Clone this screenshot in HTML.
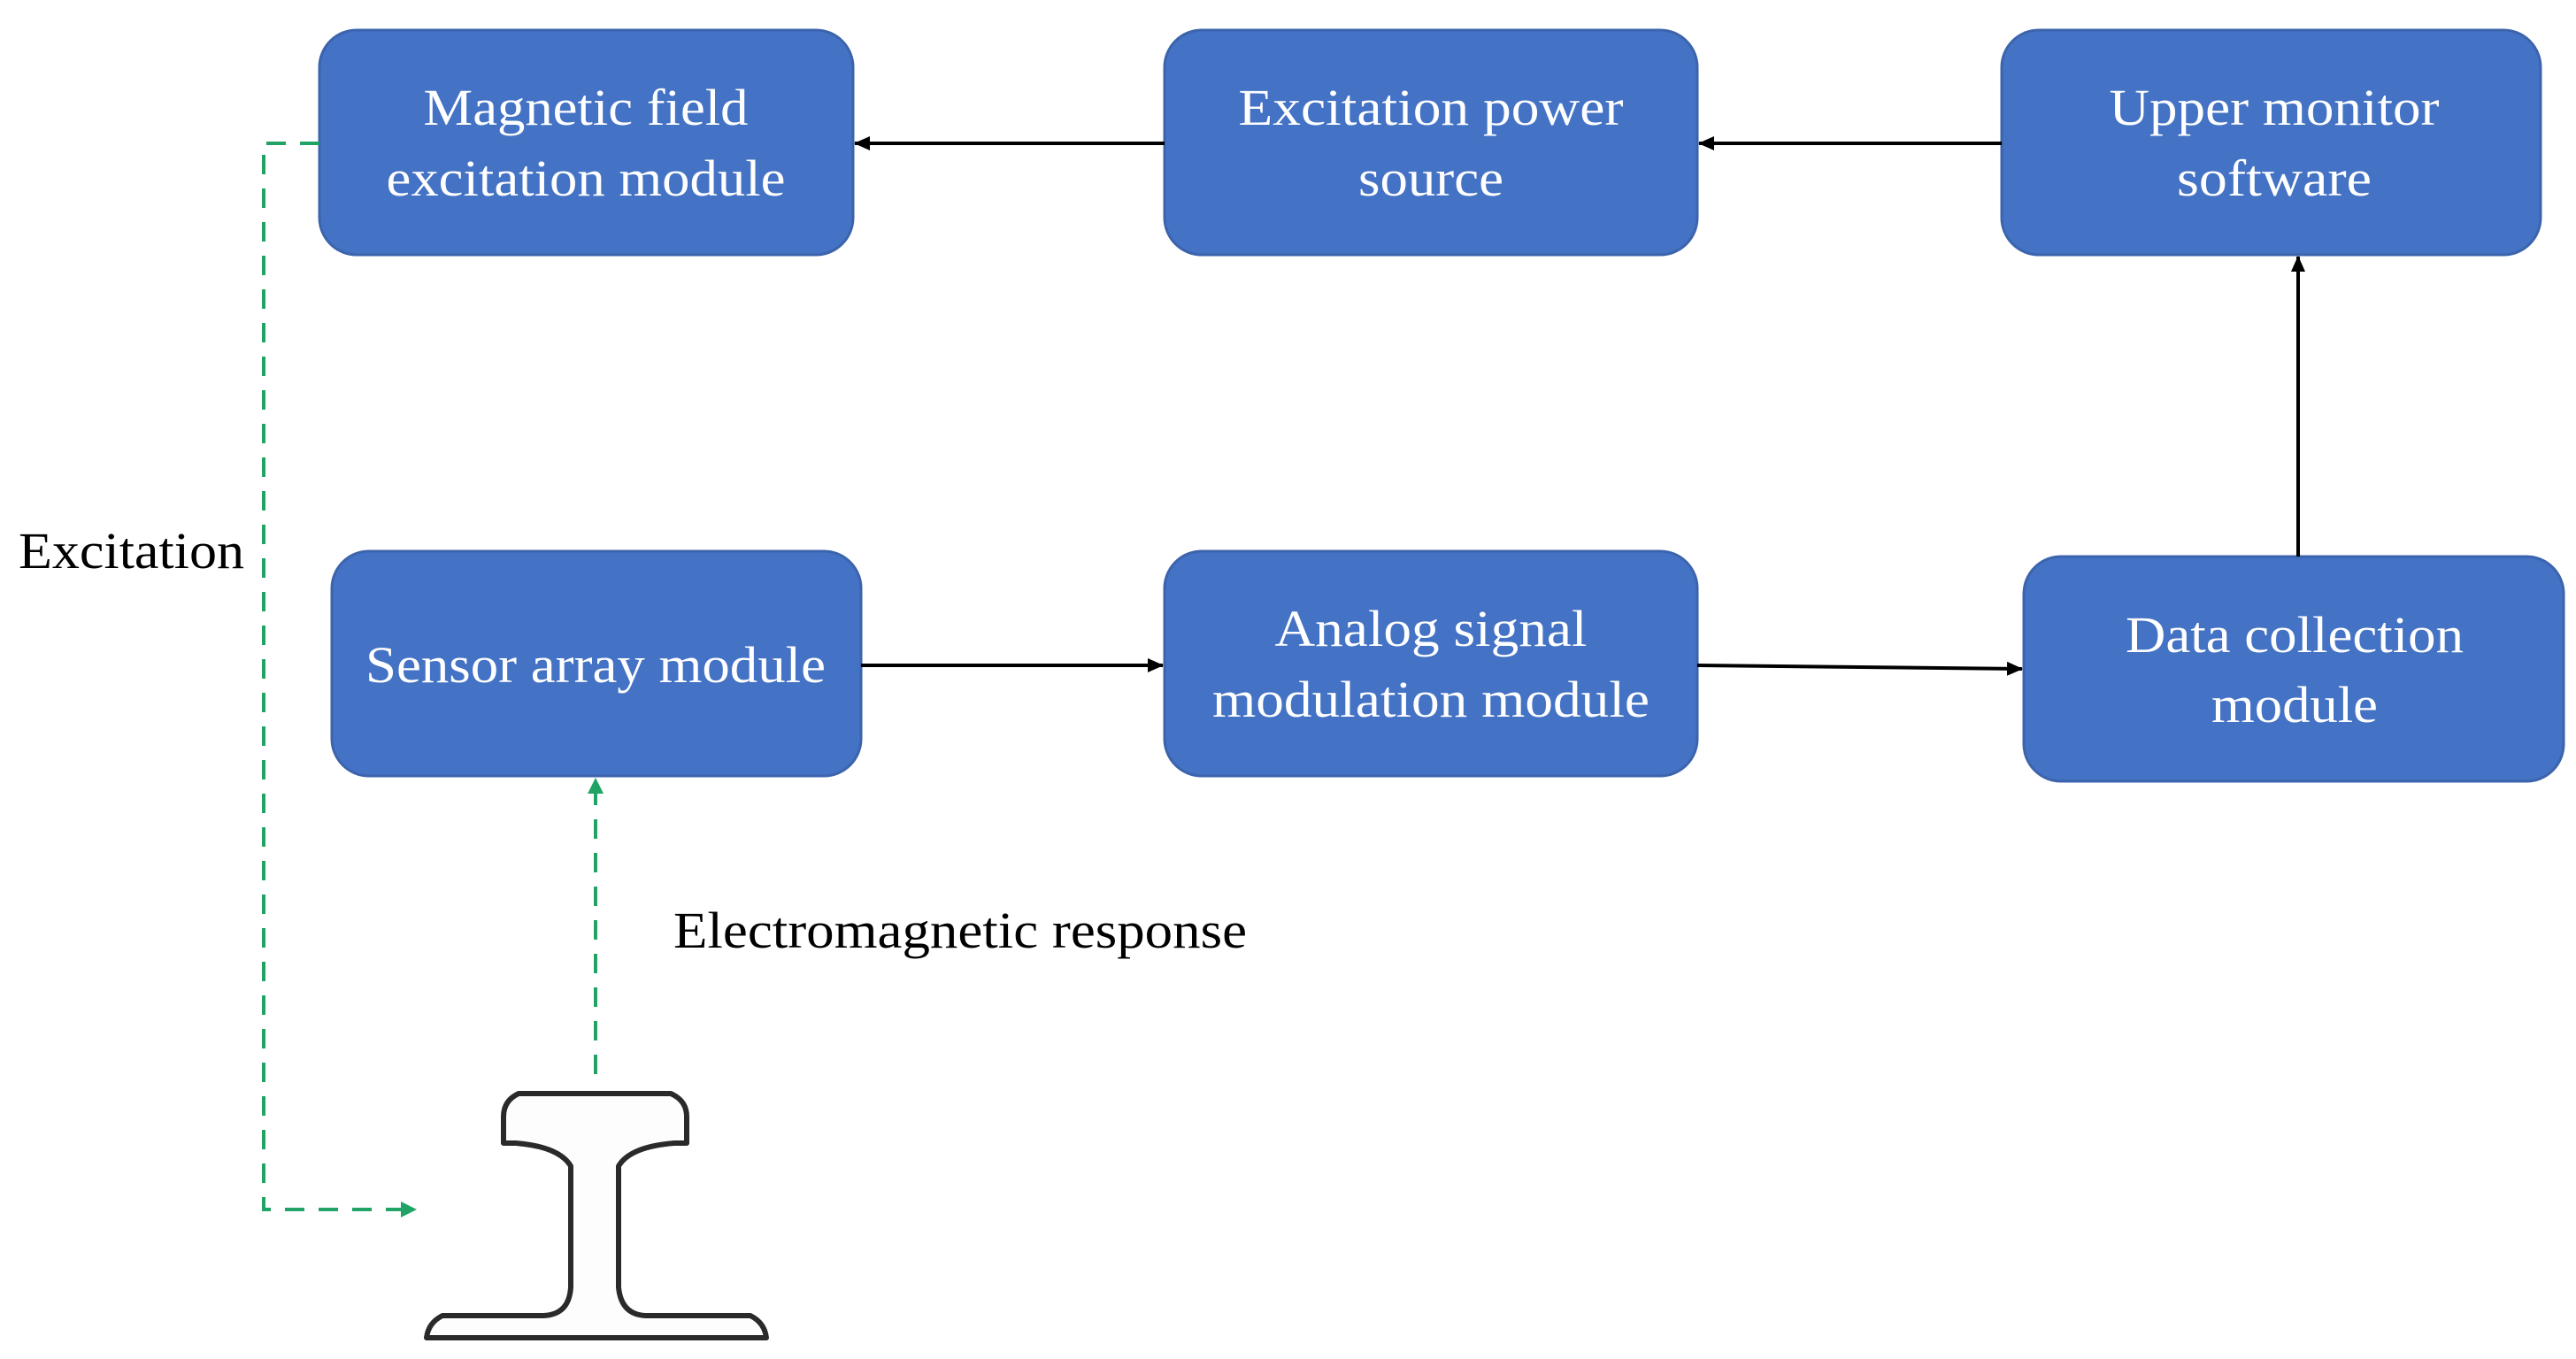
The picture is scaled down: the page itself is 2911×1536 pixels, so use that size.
<!DOCTYPE html>
<html><head><meta charset="utf-8"><style>
html,body{margin:0;padding:0;background:#fff;}
svg{display:block;}
text{font-family:"Liberation Serif",serif;}
</style></head><body>
<svg width="2911" height="1536" viewBox="0 0 2911 1536" xmlns="http://www.w3.org/2000/svg">
<defs>
<marker id="ab" markerWidth="18" markerHeight="16" refX="17" refY="8" orient="auto" markerUnits="userSpaceOnUse"><path d="M0,0 L18,8 L0,16 z" fill="#000"/></marker>
<marker id="ag" markerWidth="18" markerHeight="18" refX="17" refY="9" orient="auto" markerUnits="userSpaceOnUse"><path d="M0,0 L18,9 L0,18 z" fill="#21a366"/></marker>
</defs>
<g fill="#4472c4" stroke="#3c64ad" stroke-width="3">
<rect x="361" y="34" width="603" height="254" rx="42"/>
<rect x="1316" y="34" width="602" height="254" rx="42"/>
<rect x="2262" y="34" width="609" height="254" rx="42"/>
<rect x="375" y="623" width="598" height="254" rx="42"/>
<rect x="1316" y="623" width="602" height="254" rx="42"/>
<rect x="2287" y="629" width="610" height="254" rx="42"/>
</g>
<g fill="#fff" font-size="58" text-anchor="middle">
<text x="662" y="141" textLength="367" lengthAdjust="spacingAndGlyphs">Magnetic field</text>
<text x="662" y="221" textLength="451" lengthAdjust="spacingAndGlyphs">excitation module</text>
<text x="1617" y="141" textLength="435" lengthAdjust="spacingAndGlyphs">Excitation power</text>
<text x="1617" y="221" textLength="164" lengthAdjust="spacingAndGlyphs">source</text>
<text x="2570" y="141" textLength="373" lengthAdjust="spacingAndGlyphs">Upper monitor</text>
<text x="2570" y="221" textLength="220" lengthAdjust="spacingAndGlyphs">software</text>
<text x="673" y="771" textLength="520" lengthAdjust="spacingAndGlyphs">Sensor array module</text>
<text x="1617" y="730" textLength="353" lengthAdjust="spacingAndGlyphs">Analog signal</text>
<text x="1617" y="810" textLength="494" lengthAdjust="spacingAndGlyphs">modulation module</text>
<text x="2593" y="737" textLength="382" lengthAdjust="spacingAndGlyphs">Data collection</text>
<text x="2593" y="816" textLength="188" lengthAdjust="spacingAndGlyphs">module</text>
</g>
<g stroke="#000" stroke-width="4" fill="none">
<line x1="1316" y1="162" x2="966" y2="162" marker-end="url(#ab)"/>
<line x1="2262" y1="162" x2="1920" y2="162" marker-end="url(#ab)"/>
<line x1="973" y1="752" x2="1314" y2="752" marker-end="url(#ab)"/>
<line x1="1918" y1="752" x2="2285" y2="756" marker-end="url(#ab)"/>
<line x1="2597" y1="629" x2="2597" y2="290" marker-end="url(#ab)"/>
</g>
<g stroke="#21a366" stroke-width="4" fill="none" stroke-dasharray="22,16">
<polyline points="361,162 298,162 298,1367 470,1367" marker-end="url(#ag)"/>
<line x1="673" y1="1214" x2="673" y2="880" marker-end="url(#ag)"/>
</g>
<g font-size="58" fill="#000">
<text x="21" y="642" textLength="255" lengthAdjust="spacingAndGlyphs">Excitation</text>
<text x="761" y="1071" textLength="648" lengthAdjust="spacingAndGlyphs">Electromagnetic response</text>
</g>
<path d="M586,1236 L758,1236 Q776,1244 776,1262 L776,1292 L762,1292 Q712,1296 699,1318 L699,1455 Q702,1486 730,1487 L848,1487 Q864,1495 866,1512 L482,1512 Q484,1495 500,1487 L614,1487 Q643,1486 645,1455 L645,1318 Q632,1296 583,1292 L569,1292 L569,1262 Q569,1244 586,1236 Z" fill="#fdfdfd" stroke="#2a2a2a" stroke-width="6" stroke-linejoin="round"/>
</svg>
</body></html>
